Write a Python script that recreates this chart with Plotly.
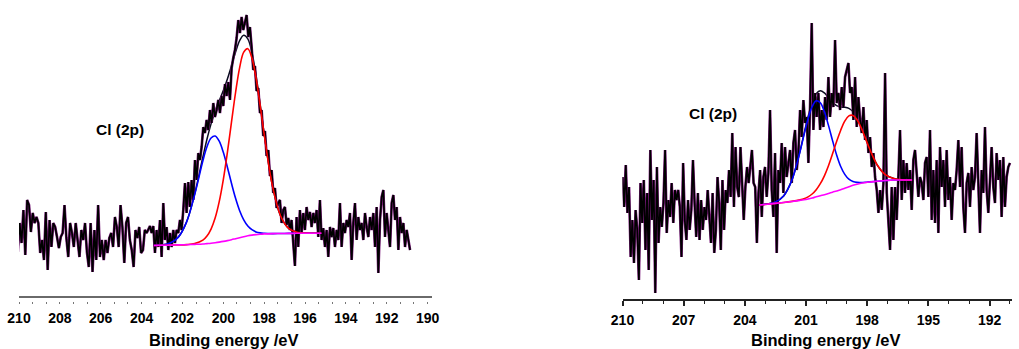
import numpy as np
import plotly.graph_objects as go

# ---------------- LEFT SPECTRUM ----------------
# raw data segments: (start eV, end eV) and intensities (a.u.)
left_seg_E = [(210.15, 203.75), (203.59, 196.82), (196.74, 190.86)]
left_raw_a = [71, 44, 73, 53, 86, 41, 96, 91, 64, 83, 73, 79, 73, 43, 56, 36, 84, 26, 76, 49,
              73, 69, 59, 48, 59, 63, 91, 58, 39, 73, 63, 49, 73, 56, 39, 66, 56, 73, 44, 29,
              73, 24, 66, 36, 91, 39, 56, 36, 56, 43, 58, 63, 49, 79, 69, 49, 91, 69, 33, 73,
              79, 56, 46, 29, 66, 58, 69, 43, 46, 66, 63]
left_raw_b = [70, 63, 70, 43, 66, 49, 76, 39, 93, 56, 69, 46, 63, 49, 66, 53, 66, 63, 76, 66,
              86, 113, 83, 114, 89, 116, 96, 136, 116, 143, 136, 149, 169, 163, 176, 166, 186, 173, 193, 179,
              186, 196, 183, 200, 190, 212, 200, 214, 196, 228, 238, 246, 258, 276, 263, 279, 266, 273, 281, 259,
              269, 249, 226, 230, 205, 208, 183, 186, 160, 165, 140, 146, 120, 126, 103, 108, 88, 93, 96, 73,
              86, 89, 71, 78]
left_raw_c = [66, 76, 53, 30, 79, 49, 86, 63, 83, 66, 89, 76, 84, 69, 83, 73, 86, 59, 96, 56,
              68, 49, 66, 39, 69, 59, 68, 49, 66, 56, 93, 49, 73, 63, 76, 69, 83, 36, 73, 93,
              56, 79, 66, 73, 56, 83, 69, 59, 79, 66, 83, 49, 89, 23, 76, 99, 106, 59, 83, 69,
              49, 93, 101, 76, 89, 46, 79, 63, 73, 49, 66, 56, 46]

left_fit_E = [203.4, 203.0, 202.6, 202.2, 201.8, 201.4, 201.0, 200.8, 200.6, 200.4, 200.2, 200.0,
              199.8, 199.6, 199.4, 199.2, 199.0, 198.8, 198.6, 198.4, 198.2, 198.0, 197.6, 197.2,
              196.8, 196.4, 196.0, 195.6, 195.2]
left_bg = [50.5, 50.7, 50.9, 51.1, 51.3, 51.6, 52.0, 52.4, 52.8, 53.3, 53.9, 54.6,
           55.4, 56.3, 57.3, 58.3, 59.3, 60.2, 60.9, 61.4, 61.8, 62.1, 62.4, 62.5,
           62.6, 62.7, 62.7, 62.8, 62.8]
left_blue = [50.6, 51.1, 52.9, 58.9, 73.9, 101.4, 135.2, 149.2, 158.0, 160.0, 154.8, 143.7,
             128.8, 112.7, 97.7, 85.3, 76.2, 70.0, 66.3, 64.1, 63.1, 62.7, 62.4, 62.5,
             62.6, 62.7, 62.7, 62.8, 62.8]
left_red = [50.5, 50.7, 50.9, 51.1, 51.4, 52.4, 55.8, 59.9, 66.9, 77.9, 94.3, 116.4,
            143.6, 173.8, 203.5, 228.4, 243.8, 247.3, 238.1, 218.1, 191.1, 161.8, 110.7, 80.3,
            67.6, 63.8, 62.9, 62.8, 62.8]
left_env = [50.6, 51.1, 52.9, 58.9, 74.0, 102.2, 139.0, 156.7, 172.1, 184.6, 195.2, 205.5,
            217.0, 230.2, 243.9, 255.4, 260.7, 257.1, 243.5, 220.8, 192.4, 162.4, 110.7, 80.3,
            67.6, 63.8, 62.9, 62.8, 62.8]

# ---------------- RIGHT SPECTRUM ----------------
right_seg_E = [(210.0, 203.09), (203.01, 196.96), (196.88, 191.0)]
right_raw_a = [122, 92, 134, 86, 112, 42, 79, 36, 89, 69, 19, 116, 76, 119, 49, 106, 29, 149, 79, 119,
               6, 132, 56, 92, 72, 96, 149, 66, 99, 82, 116, 76, 109, 99, 109, 92, 42, 136, 79, 59,
               99, 69, 89, 139, 96, 62, 106, 59, 99, 69, 92, 79, 109, 82, 56, 106, 46, 69, 122, 96,
               49, 119, 69, 109, 96, 129, 102, 166, 92, 152, 112, 102, 152, 116, 79, 112, 132, 116, 136, 149,
               116, 112, 56, 106, 129, 82, 122]
right_raw_b = [132, 102, 126, 189, 109, 82, 146, 46, 129, 116, 156, 106, 152, 122, 139, 149, 116, 156, 169, 129,
               146, 189, 162, 199, 176, 182, 136, 192, 276, 169, 206, 182, 206, 169, 189, 172, 202, 179, 222, 182,
               206, 192, 259, 196, 206, 189, 212, 192, 222, 229, 236, 206, 212, 179, 222, 172, 202, 179, 166, 192,
               159, 179, 146, 162, 132, 146, 122, 109, 86, 109, 89, 116, 226, 106, 72]
right_raw_c = [49, 112, 59, 112, 79, 122, 169, 99, 139, 106, 136, 109, 129, 89, 139, 149, 122, 102, 122, 116,
               99, 136, 142, 102, 169, 79, 129, 76, 139, 66, 152, 112, 139, 92, 149, 99, 122, 79, 116, 109,
               129, 159, 112, 152, 92, 66, 116, 126, 92, 132, 109, 122, 166, 112, 66, 129, 106, 172, 109, 86,
               126, 152, 112, 96, 146, 119, 139, 82, 142, 92, 122, 132, 136]

right_fit_E = [203.3, 202.9, 202.5, 202.1, 201.7, 201.3, 201.1, 200.9, 200.7, 200.5, 200.3, 200.1,
               199.9, 199.7, 199.5, 199.3, 199.1, 198.9, 198.7, 198.5, 198.3, 198.1, 197.9, 197.5,
               197.1, 196.7, 196.3, 195.8]
right_bg = [94.0, 94.8, 95.6, 96.5, 97.5, 98.6, 99.2, 100.0, 101.0, 102.2, 103.3, 104.3,
            105.5, 106.8, 108.0, 109.3, 110.8, 112.3, 113.7, 114.8, 115.7, 116.4, 117.0, 117.8,
            118.5, 119.0, 119.0, 119.0]
right_blue = [94.0, 95.0, 97.1, 103.1, 118.5, 147.0, 164.1, 180.2, 192.4, 198.2, 196.2, 187.2,
              173.6, 158.4, 144.0, 132.5, 124.6, 119.8, 117.5, 116.6, 116.5, 116.7, 117.1, 117.8,
              118.5, 119.0, 119.0, 119.0]
right_red = [94.0, 94.8, 95.6, 96.5, 97.6, 99.1, 100.2, 102.1, 105.0, 109.3, 115.3, 123.2,
             133.3, 145.2, 157.4, 168.8, 177.9, 183.1, 183.6, 179.3, 171.4, 161.4, 151.0, 133.7,
             124.2, 120.6, 119.3, 119.0]
right_env = [94.0, 95.0, 97.1, 103.1, 118.6, 147.5, 165.1, 182.3, 196.4, 205.3, 208.2, 206.1,
             201.4, 196.8, 193.4, 192.0, 191.7, 190.6, 187.4, 181.1, 172.2, 161.7, 151.1, 133.7,
             124.2, 120.6, 119.3, 119.0]

left_ticks = [210, 208, 206, 204, 202, 200, 198, 196, 194, 192, 190]
right_ticks = [210, 207, 204, 201, 198, 195, 192]


def seg_energies(segs, vals):
    return np.concatenate([np.linspace(s, e, len(v)) for (s, e), v in zip(segs, vals)])


left_E = seg_energies(left_seg_E, [left_raw_a, left_raw_b, left_raw_c])
left_I = left_raw_a + left_raw_b + left_raw_c
right_E = seg_energies(right_seg_E, [right_raw_a, right_raw_b, right_raw_c])
right_I = right_raw_a + right_raw_b + right_raw_c

FONT = "Liberation Sans, Arial, sans-serif"
fig = go.Figure()


def add_panel(E, I, fE, bg, blue, red, env, xa, ya):
    fig.add_trace(go.Scatter(x=fE, y=env, mode="lines", line=dict(color="#0a0a20", width=1.5, shape="spline"),
                             xaxis=xa, yaxis=ya))
    fig.add_trace(go.Scatter(x=E, y=I, mode="lines", line=dict(color="#7a1a7a", width=2.7),
                             xaxis=xa, yaxis=ya, hoverinfo="skip"))
    fig.add_trace(go.Scatter(x=E, y=I, mode="lines", line=dict(color="black", width=1.7),
                             xaxis=xa, yaxis=ya))
    fig.add_trace(go.Scatter(x=fE, y=blue, mode="lines", line=dict(color="#0000ff", width=1.6, shape="spline"),
                             xaxis=xa, yaxis=ya))
    fig.add_trace(go.Scatter(x=fE, y=red, mode="lines", line=dict(color="#ff0000", width=1.6, shape="spline"),
                             xaxis=xa, yaxis=ya))
    fig.add_trace(go.Scatter(x=fE, y=bg, mode="lines", line=dict(color="#ff00ff", width=1.6, shape="spline"),
                             xaxis=xa, yaxis=ya))


add_panel(left_E, left_I, left_fit_E, left_bg, left_blue, left_red, left_env, "x", "y")
add_panel(right_E, right_I, right_fit_E, right_bg, right_blue, right_red, right_env, "x2", "y2")
# carrier for the dotted tick row under the left axis
fig.add_trace(go.Scatter(x=[], y=[], xaxis="x3", yaxis="y", hoverinfo="skip"))

W, H = 1019, 349
ly0 = (H - 296) / H
ry0 = (H - 299) / H
tickfont = dict(family=FONT, size=14, color="black", weight="bold")

fig.update_layout(
    width=W, height=H, margin=dict(l=0, r=0, t=0, b=0, autoexpand=False),
    paper_bgcolor="white", plot_bgcolor="white", showlegend=False,
    xaxis=dict(domain=[19 / W, 431.7 / W], range=[210, 189.8], anchor="y", automargin=False,
               showline=True, linecolor="#6a6a6a", linewidth=2, ticks="",
               tickmode="array", tickvals=left_ticks, tickfont=tickfont,
               ticklabelstandoff=8, showgrid=False, zeroline=False),
    xaxis3=dict(overlaying="x", anchor="free", position=(H - 301) / H, automargin=False,
                range=[210, 189.8], showline=False, ticks="outside", ticklen=2,
                tickwidth=1, tickcolor="#777777", tick0=210, dtick=2 / 3,
                showticklabels=False, showgrid=False, zeroline=False),
    yaxis=dict(domain=[ly0, 1], range=[0, 296], visible=False, anchor="x", automargin=False),
    xaxis2=dict(domain=[622.5 / W, 1012 / W], range=[210, 190.9], anchor="y2", automargin=False,
                showline=True, linecolor="#222222", linewidth=2, ticks="outside",
                ticklen=5, tickwidth=1.5, tickcolor="#222222",
                tickmode="array", tickvals=right_ticks, tickfont=tickfont,
                minor=dict(ticks="outside", ticklen=3, tickwidth=1.2, tickcolor="#222222",
                           tick0=210, dtick=1, showgrid=False),
                ticklabelstandoff=2, showgrid=False, zeroline=False),
    yaxis2=dict(domain=[ry0, 1], range=[0, 299], visible=False, anchor="x2", automargin=False),
)

title_font = dict(family=FONT, size=16.5, color="black", weight="bold")
label_font = dict(family=FONT, size=15.5, color="black", weight="bold")
fig.add_annotation(text="Binding energy /eV", x=223 / W, y=(H - 339.5) / H, xref="paper", yref="paper",
                   showarrow=False, font=title_font, xanchor="center", yanchor="middle")
fig.add_annotation(text="Binding energy /eV", x=825.8 / W, y=(H - 339.5) / H, xref="paper", yref="paper",
                   showarrow=False, font=title_font, xanchor="center", yanchor="middle")
fig.add_annotation(text="Cl (2p)", x=119.5 / W, y=(H - 129) / H, xref="paper", yref="paper",
                   showarrow=False, font=label_font, xanchor="center", yanchor="middle")
fig.add_annotation(text="Cl (2p)", x=712.8 / W, y=(H - 113.3) / H, xref="paper", yref="paper",
                   showarrow=False, font=label_font, xanchor="center", yanchor="middle")

fig.write_html("out.html")
